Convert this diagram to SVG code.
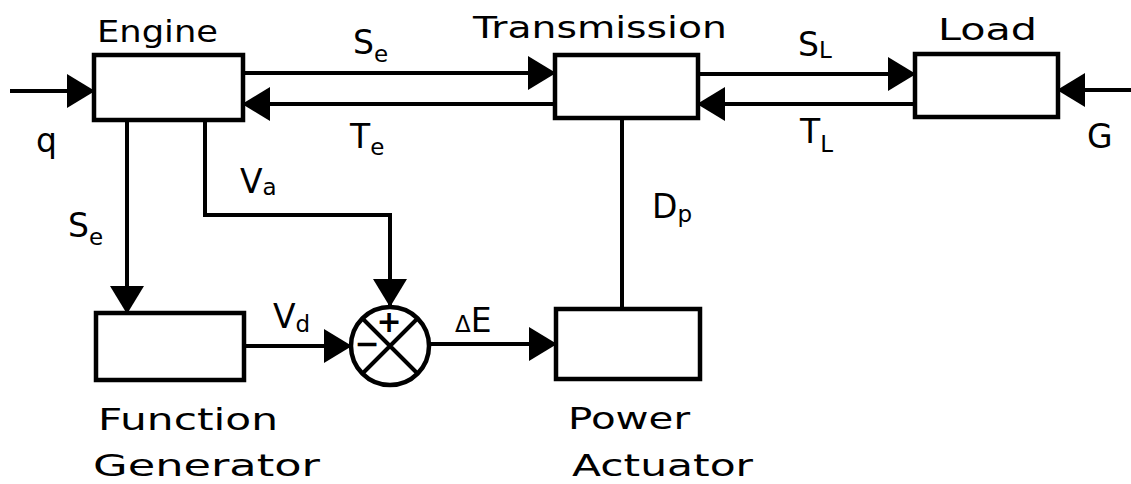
<svg xmlns="http://www.w3.org/2000/svg" width="1131" height="484" viewBox="0 0 1131 484">
<style>
.box{fill:#fff;stroke:#000;stroke-width:4.5}
.ln{fill:none;stroke:#000;stroke-width:4}
.t{font-family:"DejaVu Sans",sans-serif;font-size:30px;fill:#000}
.l{font-family:"DejaVu Sans",sans-serif;font-size:33px;fill:#000}
.s{font-size:23px}
.sign{font-family:"DejaVu Sans",sans-serif;font-size:30px;font-weight:bold;fill:#000;text-anchor:middle}
</style>
<defs>
<marker id="ah" viewBox="0 0 28 34" refX="27" refY="17" markerWidth="28" markerHeight="34" markerUnits="userSpaceOnUse" orient="auto">
<path d="M0,0 L28,17 L0,34 Z" fill="#000"/>
</marker>
</defs>
<rect width="1131" height="484" fill="#fff"/>
<g id="connectors">
<path class="ln" d="M10,91 L94,91" marker-end="url(#ah)"/>
<path class="ln" d="M243,73 L555,73" marker-end="url(#ah)"/>
<path class="ln" d="M555,104 L243,104" marker-end="url(#ah)"/>
<path class="ln" d="M698,74 L915,74" marker-end="url(#ah)"/>
<path class="ln" d="M915,104 L698,104" marker-end="url(#ah)"/>
<path class="ln" d="M1131,90 L1058,90" marker-end="url(#ah)"/>
<path class="ln" d="M127,120 L127,313" marker-end="url(#ah)"/>
<path class="ln" d="M205,120 L205,215 L390,215 L390,306" marker-end="url(#ah)"/>
<path class="ln" d="M244,346 L351,346" marker-end="url(#ah)"/>
<path class="ln" d="M429,344 L556,344" marker-end="url(#ah)"/>
<path class="ln" d="M622,118 L622,309"/>
</g>
<g id="engine">
<rect class="box" x="94" y="55" width="149" height="65"/>
<text class="t" x="97" y="42" textLength="121" lengthAdjust="spacingAndGlyphs">Engine</text>
</g>
<g id="transmission">
<rect class="box" x="555" y="55" width="143" height="63"/>
<text class="t" x="473" y="38" textLength="254" lengthAdjust="spacingAndGlyphs">Transmission</text>
</g>
<g id="load">
<rect class="box" x="915" y="54" width="143" height="63"/>
<text class="t" x="938" y="40" textLength="99" lengthAdjust="spacingAndGlyphs">Load</text>
</g>
<g id="function-generator">
<rect class="box" x="96" y="313" width="148" height="67"/>
<text class="t" x="98" y="430" textLength="180" lengthAdjust="spacingAndGlyphs">Function</text>
<text class="t" x="93" y="476" textLength="227" lengthAdjust="spacingAndGlyphs">Generator</text>
</g>
<g id="summing-junction">
<circle cx="390" cy="346" r="39" fill="#fff" stroke="#000" stroke-width="4.5"/>
<path class="ln" d="M362,318 L418,374 M418,318 L362,374"/>
<text class="sign" x="389" y="332">+</text>
<text class="sign" x="367" y="354">−</text>
</g>
<g id="power-actuator">
<rect class="box" x="556" y="309" width="144" height="70"/>
<text class="t" x="568" y="429" textLength="122" lengthAdjust="spacingAndGlyphs">Power</text>
<text class="t" x="572" y="476" textLength="181" lengthAdjust="spacingAndGlyphs">Actuator</text>
</g>
<g id="labels">
<text class="l" x="36" y="152">q</text>
<text class="l" x="353" y="54">S<tspan class="s" dy="8">e</tspan></text>
<text class="l" x="350" y="148">T<tspan class="s" dy="7">e</tspan></text>
<text class="l" x="798" y="56">S<tspan class="s" dy="2">L</tspan></text>
<text class="l" x="800" y="143">T<tspan class="s" dy="9">L</tspan></text>
<text class="l" x="1087" y="148">G</text>
<text class="l" x="240" y="193">V<tspan class="s" dy="2">a</tspan></text>
<text class="l" x="68" y="237">S<tspan class="s" dy="8">e</tspan></text>
<text class="l" x="273" y="328">V<tspan class="s" dy="4">d</tspan></text>
<text class="l" x="652" y="218">D<tspan class="s" dy="4">p</tspan></text>
<text class="l" x="455" y="332"><tspan class="s">Δ</tspan>E</text>
</g>
</svg>
